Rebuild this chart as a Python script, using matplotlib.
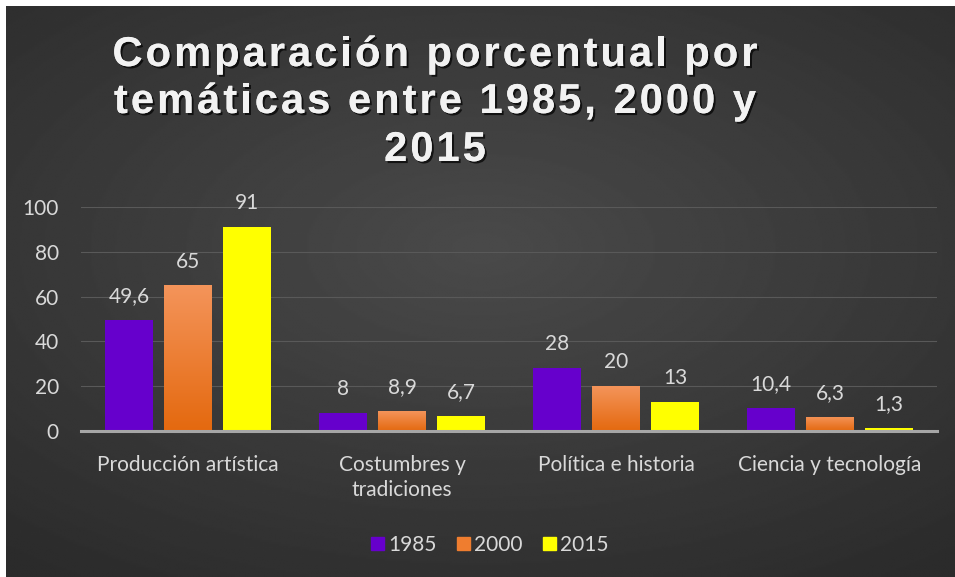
import numpy as np
import matplotlib.pyplot as plt
import matplotlib.patheffects as pe
from matplotlib.patches import Patch
from matplotlib.colors import LinearSegmentedColormap
from matplotlib.textpath import TextToPath
from matplotlib.font_manager import FontProperties

# data
categorias = ['Producción artística', 'Costumbres y\ntradiciones',
              'Política e historia', 'Ciencia y tecnología']
anios = ['1985', '2000', '2015']
v1985 = [49.6, 8, 28, 10.4]
v2000 = [65, 8.9, 20, 6.3]
v2015 = [91, 6.7, 13, 1.3]
colores = ['#6600cc', '#ef7d2f', '#ffff00']
titulo = ['Comparación porcentual por', 'temáticas entre 1985, 2000 y', '2015']

plt.rcParams['font.family'] = ['Lato', 'DejaVu Sans']
txt = '#d9d9d9'
fs = 15
W, H = 955, 577

fig = plt.figure(figsize=(W / 100, H / 100), dpi=100)
fig.patch.set_facecolor('white')

# dark radial background
bg = fig.add_axes([6/W, 0, 1 - 6/W, 1 - 6/H])
yy, xx = np.mgrid[-1:1:300j, -1:1:500j]
r = np.sqrt((xx * 0.9) ** 2 + ((yy + 0.15) * 1.0) ** 2)
bg.imshow(0.29 - 0.12 * np.clip(r, 0, 1.4) / 1.4, cmap='gray', vmin=0, vmax=1,
          aspect='auto', extent=[0, 1, 0, 1], interpolation='bilinear')
bg.axis('off')

ax = fig.add_axes([81/W, 1 - 431/H, (937 - 81)/W, (431 - 207)/H])
ax.set_facecolor('none')

x = np.arange(len(categorias))
w = 0.224
step = 0.276
series = [v1985, v2000, v2015]
bars = []
for i, vals in enumerate(series):
    b = ax.bar(x + (i - 1) * step, vals, w, color=colores[i], zorder=2)
    bars.append(b)

# orange gradient
grad = np.linspace(0, 1, 100).reshape(-1, 1)
cm_or = LinearSegmentedColormap.from_list('or', ['#e4690f', '#f4945a'])
for rect in bars[1]:
    x0, y0 = rect.get_x(), rect.get_y()
    im = ax.imshow(grad, cmap=cm_or, aspect='auto', origin='lower',
                   extent=[x0, x0 + rect.get_width(), y0, y0 + rect.get_height()],
                   zorder=2.1)
    im.set_clip_path(rect)

def fmt(v):
    return ('%g' % v).replace('.', ',')

for b, vals in zip(bars, series):
    for rect, v in zip(b, vals):
        ax.annotate(fmt(v), (rect.get_x() + rect.get_width() / 2, v),
                    xytext=(0, 10), textcoords='offset points', ha='center',
                    va='bottom', color=txt, fontsize=fs)

ax.set_xlim(-0.5, 3.5)
ax.set_ylim(0, 100)
ax.set_yticks(range(0, 101, 20))
ax.grid(axis='y', color='#595959', lw=0.8, zorder=0)
for s in ['top', 'right', 'left']:
    ax.spines[s].set_visible(False)
ax.spines['bottom'].set_color('#a6a6a6')
ax.spines['bottom'].set_linewidth(2.2)
ax.spines['bottom'].set_zorder(3)
ax.set_xticks(x)
ax.set_xticklabels(categorias, color=txt, fontsize=fs, linespacing=1.35, va='top')
ax.tick_params(axis='both', length=0, colors=txt, labelsize=fs)
ax.tick_params(axis='x', pad=17)
ax.tick_params(axis='y', pad=16)

# title, letter-spaced by hand
tprop = FontProperties(family='Liberation Sans', weight='bold', size=30)
tp = TextToPath()
px = 100 / 72
def anchos(linea):
    return [tp.get_text_width_height_descent(c, tprop, ismath=False)[0] * px
            for c in linea]
ancho1 = sum(anchos(titulo[0]))
track = (645 - ancho1) / (len(titulo[0]) - 1)
sombra = [pe.withSimplePatchShadow(offset=(1.5, -1.5), shadow_rgbFace='black',
                                   alpha=0.7), pe.Normal()]
for linea, base in zip(titulo, [66, 113, 161]):
    ws = anchos(linea)
    total = sum(ws) + track * (len(linea) - 1)
    cx = 435 - total / 2
    for c, cw in zip(linea, ws):
        fig.text(cx / W, 1 - base / H, c, ha='left', va='baseline',
                 color='#f2f2f2', fontproperties=tprop, path_effects=sombra)
        cx += cw + track

handles = [Patch(color=c) for c in colores]
fig.legend(handles, anios, loc='center', bbox_to_anchor=(490/W, 1 - 545/H),
           ncol=3, frameon=False, fontsize=fs, labelcolor=txt,
           handlelength=0.6, handleheight=0.6, handletextpad=0.2,
           columnspacing=1.0)

fig.savefig('out.png', dpi=100, facecolor=fig.get_facecolor())
